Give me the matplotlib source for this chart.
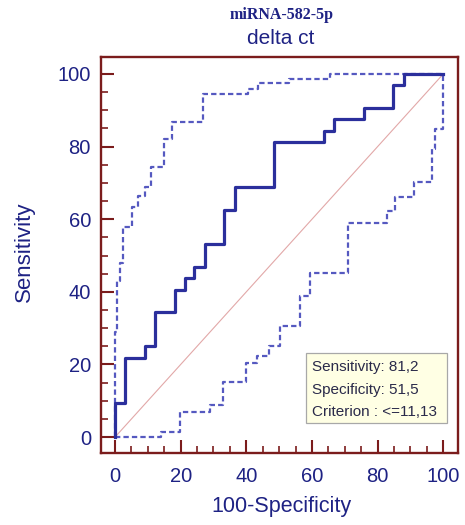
import matplotlib
matplotlib.use("Agg")
import matplotlib.pyplot as plt
from matplotlib.patches import Rectangle
from matplotlib.ticker import MultipleLocator

# ROC curve (100-Specificity, Sensitivity) operating points
roc_fpr = [0, 0, 3.0, 9.1, 12.1, 18.2, 21.2, 24.2, 27.3, 33.3, 36.4, 48.5, 63.6, 66.7, 75.8, 84.8, 87.9, 100]
roc_tpr = [0, 9.4, 21.9, 25.0, 34.4, 40.6, 43.8, 46.9, 53.1, 62.5, 68.8, 81.2, 84.4, 87.5, 90.6, 96.9, 100, 100]

# upper confidence bound
up_fpr = [0, 0, 0.5, 1.5, 2.3, 5.1, 7.1, 9.1, 11.0, 14.9, 17.3, 26.9, 40.6, 43.6, 53.1, 65.5, 100]
up_tpr = [0, 29, 43, 48, 57.8, 63.5, 66.5, 69, 74.5, 82, 86.9, 94.5, 96, 97.4, 98.5, 100, 100]

# lower confidence bound
lo_fpr = [0, 14.0, 19.8, 28.9, 32.8, 39.9, 43.3, 47.0, 50.3, 56.4, 59.4, 71.0, 82.8, 85.3, 91.2, 96.5, 97.5, 100]
lo_tpr = [0, 1.5, 7.0, 8.8, 15.2, 20.3, 22.3, 25.1, 30.5, 38.8, 45.3, 58.9, 62.3, 66.2, 70.3, 79.3, 84.8, 100]

diag = [0, 100]
ticks = [0, 20, 40, 60, 80, 100]
info_lines = ["Sensitivity: 81,2", "Specificity: 51,5", "Criterion : <=11,13"]

navy = "#1e2284"
spine_c = "#7b1c1c"
roc_c = "#2b2f9c"
ci_c = "#5559c0"

plt.rcParams['font.family'] = ['Liberation Sans', 'DejaVu Sans']

fig = plt.figure(figsize=(4.65, 5.25), dpi=100)
ax = fig.add_axes([0.2166, 0.1377, 0.985 - 0.2166, 0.8909 - 0.1377])

ax.plot(diag, diag, color="#e2a8a8", lw=0.8, zorder=1)
ax.step(up_fpr, up_tpr, where='post', color=ci_c, lw=1.6, ls=(0, (2.4, 1.4)), zorder=2)
ax.step(lo_fpr, lo_tpr, where='post', color=ci_c, lw=1.6, ls=(0, (2.4, 1.4)), zorder=2)
ax.step(roc_fpr, roc_tpr, where='post', color=roc_c, lw=2.3, zorder=3)

ax.set_xlim(-4.36, 104.5)
ax.set_ylim(-4.3, 104.6)

for s in ax.spines.values():
    s.set_color(spine_c)
    s.set_linewidth(1.7)

ax.set_xticks(ticks)
ax.set_yticks(ticks)
ax.xaxis.set_minor_locator(MultipleLocator(5))
ax.yaxis.set_minor_locator(MultipleLocator(5))
ax.tick_params(which='major', direction='in', length=9.5, width=1.5, color=spine_c,
               labelcolor=navy, labelsize=14.5, pad=7)
ax.tick_params(axis='x', which='major', pad=10.5)
ax.tick_params(which='minor', direction='in', length=5, width=1.2, color=spine_c)
ax.tick_params(axis='x', which='both', top=False)
ax.tick_params(axis='y', which='both', right=False)

ax.set_xlabel("100-Specificity", color=navy, fontsize=15.5, va='center')
ax.xaxis.set_label_coords(0.507, -0.137)
ax.set_ylabel("Sensitivity", color=navy, fontsize=16, va='center')
ax.yaxis.set_label_coords(-0.2147, 0.509)

fig.text(0.606, 0.971, "miRNA-582-5p", color=navy, fontsize=11.5, fontweight='bold',
         family=['Liberation Serif', 'DejaVu Serif'], ha='center', va='center')
fig.text(0.604, 0.927, "delta ct", color=navy, fontsize=15, ha='center', va='center')

box = Rectangle((0.5746, 0.0751), 0.969 - 0.5746, 0.2521 - 0.0751, transform=ax.transAxes,
                facecolor="#ffffe4", edgecolor="#a8a8a8", lw=0.9, zorder=4)
ax.add_patch(box)
for yy, t in zip([0.2175, 0.1586, 0.1037], info_lines):
    ax.text(0.5905, yy, t, transform=ax.transAxes, fontsize=11, color="#2a2a4a",
            ha='left', va='center', zorder=5)

fig.savefig("out.png", dpi=100)
